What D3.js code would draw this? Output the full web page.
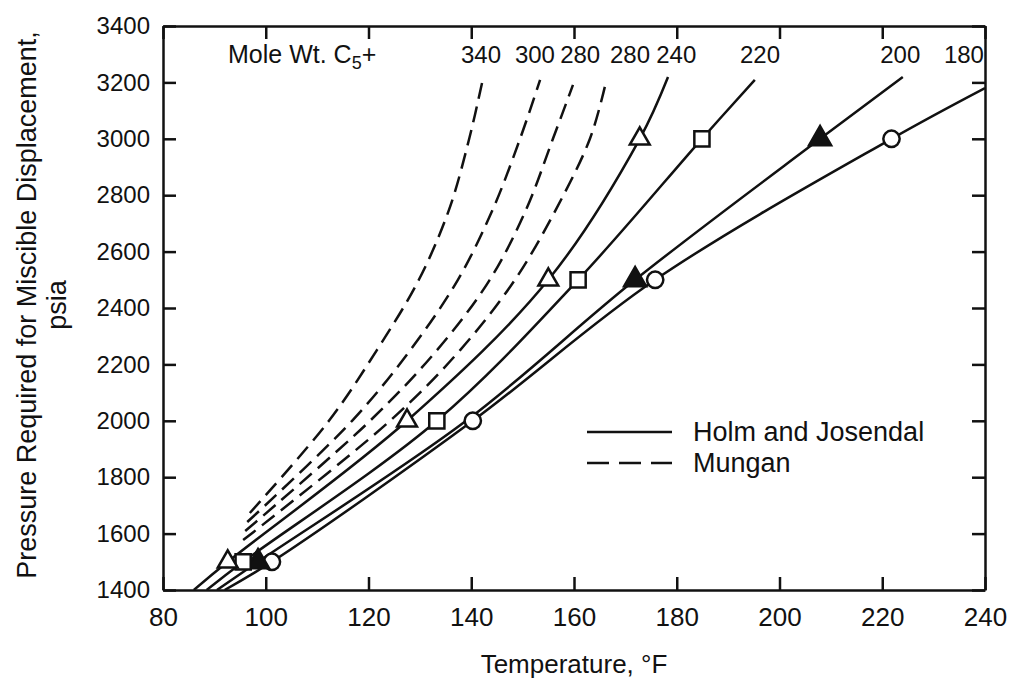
<!DOCTYPE html>
<html>
<head>
<meta charset="utf-8">
<script src="https://cdn.jsdelivr.net/npm/d3@7"></script>
<style>
  body { margin: 0; background: #fff; }
  text { font-family: "Liberation Sans", Arial, sans-serif; fill: #111; }
</style>
</head>
<body>
<div id="chart"></div>
<script>
// tick values
var tempTicks = [80, 100, 120, 140, 160, 180, 200, 220, 240];
var pressTicks = [1400, 1600, 1800, 2000, 2200, 2400, 2600, 2800, 3000, 3200, 3400];

// Holm and Josendal curves: [temperature F, pressure psia]
var holm240 = [[86, 1400], [92.6, 1500], [127.5, 2000], [155, 2500], [172.8, 3000], [178.3, 3219]];
var holm220 = [[88.5, 1400], [95.6, 1500], [133.3, 2000], [160.8, 2500], [184.9, 3000], [195.2, 3209]];
var holm200 = [[90.5, 1400], [98.5, 1500], [139, 2000], [171.9, 2500], [207.9, 3000], [224, 3219]];
var holm180 = [[92, 1400], [101.2, 1500], [140.3, 2000], [175.8, 2500], [221.8, 3000], [240, 3180]];

// measured points on the Holm and Josendal curves
var pts240 = [[92.6, 1500], [127.5, 2000], [155, 2500], [172.8, 3000]];
var pts220 = [[95.6, 1500], [133.3, 2000], [160.8, 2500], [184.9, 3000]];
var pts200 = [[98.5, 1500], [171.9, 2500], [207.9, 3000]];
var pts180 = [[101.2, 1500], [140.3, 2000], [175.8, 2500], [221.8, 3000]];

// Mungan curves
var mungan340 = [[96.9, 1673], [112.3, 2000], [121.6, 2250], [129.8, 2500], [135.7, 2750], [139.6, 3000], [142.3, 3215]];
var mungan300 = [[96.4, 1641], [116.8, 2000], [128.1, 2250], [137.4, 2500], [144.2, 2750], [149.5, 3000], [153.4, 3209]];
var mungan280a = [[96, 1609], [120.3, 2000], [133.3, 2250], [143.6, 2500], [150.7, 2750], [155.9, 3000], [159.8, 3191]];
var mungan280b = [[95.6, 1577], [124.2, 2000], [137.8, 2250], [148.5, 2500], [156.5, 2750], [163.1, 3000], [166, 3184]];

// mole weight labels along the top
var curveLabels = ["340", "300", "280", "280", "240", "220", "200", "180"];
var labelTemps = [141.9, 152.4, 161.2, 170.9, 179.9, 196.2, 223.5, 235.9];

var legendNames = ["Holm and Josendal", "Mungan"];

var svgWidth = 1011;
var svgHeight = 681;

var margin = { top: 26, right: 26, bottom: 91, left: 163 };
var width = svgWidth - margin.left - margin.right;
var height = svgHeight - margin.top - margin.bottom;

var svg = d3.select("#chart")
  .append("svg")
  .attr("width", svgWidth)
  .attr("height", svgHeight);

var chartGroup = svg.append("g")
  .attr("transform", `translate(${margin.left}, ${margin.top})`);

// scales
var xScale = d3.scaleLinear().domain([80, 240]).range([0, width]);
var yScale = d3.scaleLinear().domain([1400, 3400]).range([height, 0]);

// axes, ticks pointing inward
var bottomAxis = d3.axisBottom(xScale).tickValues(tempTicks).tickSize(-13).tickSizeOuter(0).tickPadding(18);
var leftAxis = d3.axisLeft(yScale).tickValues(pressTicks).tickSize(-13).tickSizeOuter(0).tickPadding(13)
  .tickFormat(d3.format("d"));
var topAxis = d3.axisTop(xScale).tickValues(tempTicks).tickSize(-13).tickSizeOuter(0).tickFormat("");
var rightAxis = d3.axisRight(yScale).tickValues(pressTicks).tickSize(-13).tickSizeOuter(0).tickFormat("");

var xAxisG = chartGroup.append("g").attr("transform", `translate(0, ${height})`).call(bottomAxis);
var yAxisG = chartGroup.append("g").call(leftAxis);
chartGroup.append("g").call(topAxis);
chartGroup.append("g").attr("transform", `translate(${width}, 0)`).call(rightAxis);

chartGroup.selectAll(".domain, .tick line")
  .attr("stroke", "#111")
  .attr("stroke-width", 2.5);
chartGroup.selectAll(".tick text")
  .attr("font-family", "Liberation Sans, Arial, sans-serif")
  .attr("fill", "#111");
xAxisG.selectAll(".tick text").attr("font-size", 26);
yAxisG.selectAll(".tick text").attr("font-size", 24);

// clip the curves to the plot area
chartGroup.append("clipPath").attr("id", "plotClip")
  .append("rect").attr("width", width).attr("height", height);

var line = d3.line()
  .x(d => xScale(d[0]))
  .y(d => yScale(d[1]))
  .curve(d3.curveCatmullRom);

var curves = chartGroup.append("g").attr("clip-path", "url(#plotClip)");

[holm240, holm220, holm200, holm180].forEach(function(c) {
  curves.append("path")
    .datum(c)
    .attr("d", line)
    .attr("fill", "none")
    .attr("stroke", "#111")
    .attr("stroke-width", 2.5);
});

[mungan340, mungan300, mungan280a, mungan280b].forEach(function(c) {
  curves.append("path")
    .datum(c)
    .attr("d", line)
    .attr("fill", "none")
    .attr("stroke", "#111")
    .attr("stroke-width", 2.5)
    .attr("stroke-dasharray", "16,8");
});

// markers
function addMarkers(data, type, size, fill) {
  chartGroup.selectAll(null)
    .data(data)
    .enter()
    .append("path")
    .attr("transform", d => `translate(${xScale(d[0])}, ${yScale(d[1])})`)
    .attr("d", d3.symbol().type(type).size(size))
    .attr("fill", fill)
    .attr("stroke", "#111")
    .attr("stroke-width", 2.5);
}
addMarkers(pts180, d3.symbolCircle, 210, "#fff");
addMarkers(pts200, d3.symbolTriangle, 210, "#111");
addMarkers(pts220, d3.symbolSquare, 230, "#fff");
addMarkers(pts240, d3.symbolTriangle, 170, "#fff");

// top labels
chartGroup.selectAll(null)
  .data(curveLabels)
  .enter()
  .append("text")
  .attr("x", (d, i) => xScale(labelTemps[i]))
  .attr("y", 37)
  .attr("text-anchor", "middle")
  .attr("font-size", 24)
  .text(d => d);

var mole = chartGroup.append("text")
  .attr("x", 65)
  .attr("y", 37)
  .attr("font-size", 25);
mole.append("tspan").text("Mole Wt. C");
mole.append("tspan").attr("font-size", 18).attr("dy", 6).text("5");
mole.append("tspan").attr("dy", -6).text("+");

// legend
var legend = chartGroup.append("g").attr("transform", "translate(424, 406)");
legendNames.forEach(function(name, i) {
  legend.append("line")
    .attr("x1", 0).attr("x2", 85)
    .attr("y1", i * 31).attr("y2", i * 31)
    .attr("stroke", "#111")
    .attr("stroke-width", 2.5)
    .attr("stroke-dasharray", i === 0 ? null : "22,10");
  legend.append("text")
    .attr("x", 106)
    .attr("y", i * 31 + 9)
    .attr("font-size", 27)
    .text(name);
});

// axis titles
chartGroup.append("text")
  .attr("x", width / 2)
  .attr("y", height + 83)
  .attr("text-anchor", "middle")
  .attr("font-size", 26)
  .text("Temperature, °F");

var yTitle = svg.append("text")
  .attr("transform", "translate(36, 305) rotate(-90)")
  .attr("text-anchor", "middle")
  .attr("font-size", 27);
yTitle.append("tspan").attr("x", 0).attr("y", 0).text("Pressure Required for Miscible Displacement,");
yTitle.append("tspan").attr("x", 0).attr("y", 30).text("psia");
</script>
</body>
</html>
